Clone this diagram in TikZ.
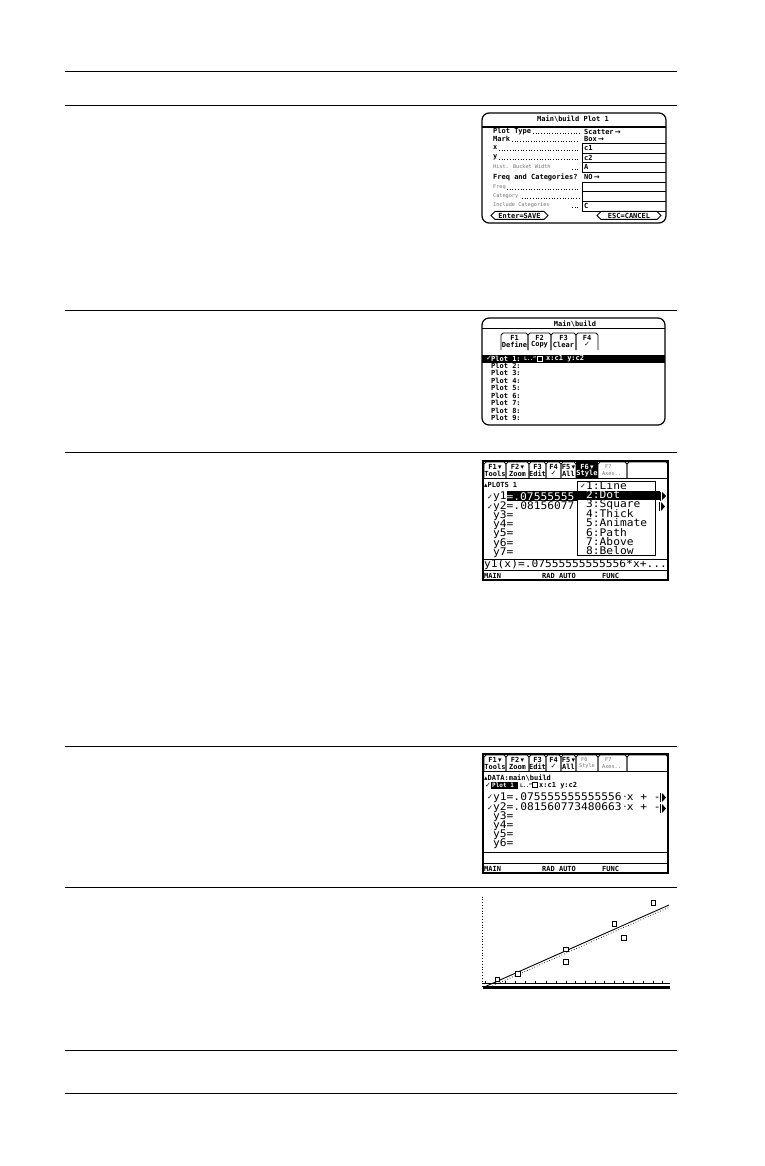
\documentclass[tikz,border=0pt]{standalone}
\usepackage{fontspec}
\setmainfont{DejaVu Sans Mono}
\newfontfamily\dejavu{DejaVu Sans}
\newfontfamily\lgfont[FakeStretch=1.07]{DejaVu Sans Mono}
\newcount\tn
\newcommand{\TT}[4][sm]{\global\advance\tn by 1 \node[#1] (t\the\tn) at (#2,#3) {#4};}
\newcommand{\TabBox}[4]{\draw[scr] (#1,#4) -- (#1,#3+2) -- (#1+2,#3) -- (#2-2,#3) -- (#2,#3+2) -- (#2,#4);}
\newcommand{\Pill}[3]{\draw[scr,line width=1pt] (#1+4,#3-4) -- (#1,#3) -- (#1+4,#3+4) -- (#2-4,#3+4) -- (#2,#3) -- (#2-4,#3-4) -- cycle;}
\tikzset{
  x=1pt,y=-1pt,
  rule/.style={line width=0.7pt,black},
  hrule/.style={line width=1.8pt,black},
  scr/.style={line width=0.8pt,black},
  frm/.style={line width=1.2pt,black,rounded corners=7pt},
  sm/.style={font=\fontsize{7}{7}\selectfont\bfseries,anchor=west,inner sep=0pt},
  smc/.style={font=\fontsize{7}{7}\selectfont\bfseries,anchor=center,inner sep=0pt},
  smw/.style={sm,text=white},
  smcw/.style={smc,text=white},
  tiny/.style={font=\fontsize{5.2}{5.2}\selectfont,anchor=west,inner sep=0pt,text=black!55},
  lg/.style={font=\lgfont\fontsize{10.5}{10.5}\selectfont,anchor=west,inner sep=0pt},
  lgw/.style={lg,text=white},
  lead/.style={line width=0.7pt,black,dotted},
  pt/.style={draw=black,line width=0.9pt,fill=white,minimum size=4.6pt,inner sep=0pt},
}
\begin{document}
\begin{tikzpicture}
\useasboundingbox (0,0) rectangle (764,1166);
\fill[white] (0,0) rectangle (764,1166);
% page rules
\draw[hrule] (65,71.5) -- (677,71.5);
\draw[hrule] (65,105.5) -- (677,105.5);
\foreach \yy in {310.5,452.5,746.5,887.5,1050.5,1093.5}
  \draw[rule] (65,\yy) -- (677,\yy);

% ---------- screen 1
\draw[frm] (482,113) rectangle (666,223);
\TT[smc]{573}{119}{Main\textbackslash build Plot 1}
\draw[line width=1.4pt] (482,127) -- (666,127);
\TT{493}{131.5}{Plot Type}
\TT{493}{138.5}{Mark}
\TT{584}{131.5}{Scatter\,{\dejavu→}}
\TT{584}{138.5}{Box\,{\dejavu→}}
\TT{493}{148}{x}
\TT{493}{157.5}{y}
\TT[tiny]{493}{167}{Hist. Bucket Width}
\TT{493}{177}{Freq and Categories?}
\TT{584}{177}{NO\,{\dejavu→}}
\TT[tiny]{493}{187}{Freq}
\TT[tiny]{493}{196}{Category}
\TT[tiny]{493}{205.5}{Include Categories}
\draw[lead] (533,133) -- (579,133);
\draw[lead] (512,141) -- (579,141);
\draw[lead] (499,150) -- (579,150);
\draw[lead] (499,159.5) -- (579,159.5);
\draw[lead] (572,169) -- (579,169);
\draw[lead] (507,189) -- (579,189);
\draw[lead] (522,198) -- (579,198);
\draw[lead] (572,207) -- (579,207);
\foreach \yy in {143,153,162,172,182,191,201,211}
  \draw[scr] (582,\yy) -- (666,\yy);
\foreach \ya/\yb in {143/172,182/211}
  \draw[scr] (582,\ya) -- (582,\yb);
\TT{584}{148}{c1}
\TT{584}{157.5}{c2}
\TT{584}{167}{A}
\TT{584}{205.5}{C}
\Pill{491}{548}{215.5}
\TT[smc]{519.5}{215.5}{Enter=SAVE}
\Pill{597}{661}{215.5}
\TT[smc]{629}{215.5}{ESC=CANCEL}

% ---------- screen 2
\draw[frm] (482,318) rectangle (665,425);
\TT[smc]{575}{324}{Main\textbackslash build}
\draw[scr] (482,328) -- (665,328);
\TabBox{501}{528}{333}{350}
\TabBox{528}{551}{333}{350}
\TabBox{551}{576}{333}{350}
\TabBox{576}{598}{333}{350}
\TT[smc]{514.5}{337.5}{F1}
\TT[smc]{514.5}{344.5}{Define}
\TT[smc]{539.5}{337.5}{F2}
\TT[smc]{539.5}{344.5}{Copy}
\TT[smc]{563.5}{337.5}{F3}
\TT[smc]{563.5}{344.5}{Clear}
\TT[smc]{587}{337.5}{F4}
\TT[smc]{587}{344.5}{{\dejavu✓}}
\fill[black] (482,355) rectangle (665,362.5);
\TT[smw]{486}{358.5}{{\dejavu✓}}
\TT[smw]{491}{358.5}{Plot 1:}
\TT[smw]{524}{358.5}{\fontsize{5}{5}\selectfont L.."}
\draw[white,line width=0.7pt] (537,356.2) rectangle (542,361);
\TT[smw]{546}{358.5}{x:c1 y:c2}
\foreach \n/\yy in {2/365.5,3/373,4/380.5,5/388,6/395.5,7/403,8/410.5,9/418}
  \node[sm] (p\n) at (491,\yy) {Plot \n:};

% ---------- screen 3
\draw[line width=1.3pt] (483,461) rectangle (668,580);
\TabBox{484}{506}{462}{478}
\TabBox{506}{529}{462}{478}
\TabBox{529}{546}{462}{478}
\TabBox{546}{561}{462}{478}
\TabBox{561}{576}{462}{478}
\fill[black] (576,462) rectangle (598,478);
\TabBox{598}{627}{462}{478}
\TabBox{627}{668}{462}{478}
\draw[scr] (483,478) -- (668,478);
\TT[smc]{495}{467}{F1\,{\dejavu▾}}
\TT[smc]{495}{473.5}{Tools}
\TT[smc]{517.5}{467}{F2\,{\dejavu▾}}
\TT[smc]{517.5}{473.5}{Zoom}
\TT[smc]{537.5}{467}{F3}
\TT[smc]{537.5}{473.5}{Edit}
\TT[smc]{553.5}{467}{F4}
\TT[smc]{553.5}{473.5}{{\dejavu✓}}
\TT[smc]{568.5}{467}{F5\,{\dejavu▾}}
\TT[smc]{568.5}{473.5}{All}
\TT[smcw]{587}{467}{F6\,{\dejavu▾}}
\TT[smcw]{587}{473.5}{Style}
\TT[tiny]{605}{467}{F7}
\TT[tiny]{602}{473.5}{Axes..}
\TT{484}{484.5}{{\dejavu▴}PLOTS 1}
\fill[black] (506.5,491) rectangle (577,501);
\TT[lgw]{506.5}{496.5}{=.07555555}
\TT[lg]{493}{496.5}{y1}
\TT[sm]{487}{497}{{\dejavu✓}}
\TT[sm]{487}{507}{{\dejavu✓}}
\TT[lg]{493}{507}{y2=.08156077}
\TT[lg]{493}{516}{y3=}
\TT[lg]{493}{525}{y4=}
\TT[lg]{493}{534}{y5=}
\TT[lg]{493}{543.5}{y6=}
\TT[lg]{493}{552.5}{y7=}
\draw[scr,fill=white] (577,481) rectangle (655,555);
\fill[black] (577,491) rectangle (655,500);
\fill[black] (655,491) rectangle (660,500);
\TT[sm]{580}{486}{{\dejavu✓}}
\TT[lg]{586}{486}{1:Line}
\TT[lgw]{586}{495}{2:Dot}
\TT[lg]{586}{505}{3:Square}
\TT[lg]{586}{514}{4:Thick}
\TT[lg]{586}{523}{5:Animate}
\TT[lg]{586}{532.5}{6:Path}
\TT[lg]{586}{542}{7:Above}
\TT[lg]{586}{551}{8:Below}
\fill[white] (660,491) rectangle (667,501);
\fill[black] (662,492) -- (666,496) -- (662,500) -- cycle;
\draw[scr] (660,491.5) -- (660,500.5);
\fill[black] (661,502) -- (665,506.5) -- (661,511) -- cycle;
\draw[scr] (659.5,502) -- (659.5,511);
\draw[scr] (483,559) -- (668,559);
\TT[lg]{484}{565}{y1(x)=.07555555555556*x+...}
\draw[scr] (483,570.5) -- (668,570.5);
\TT{484}{575.5}{MAIN}
\TT{542}{575.5}{RAD AUTO}
\TT{602}{575.5}{FUNC}

% ---------- screen 4
\draw[line width=1.3pt] (483,754) rectangle (668,873);
\TabBox{484}{506}{755}{771}
\TabBox{506}{529}{755}{771}
\TabBox{529}{546}{755}{771}
\TabBox{546}{561}{755}{771}
\TabBox{561}{576}{755}{771}
\TabBox{576}{598}{755}{771}
\TabBox{598}{627}{755}{771}
\TabBox{627}{668}{755}{771}
\draw[scr] (483,771) -- (668,771);
\TT[smc]{495}{760}{F1\,{\dejavu▾}}
\TT[smc]{495}{766.5}{Tools}
\TT[smc]{517.5}{760}{F2\,{\dejavu▾}}
\TT[smc]{517.5}{766.5}{Zoom}
\TT[smc]{537.5}{760}{F3}
\TT[smc]{537.5}{766.5}{Edit}
\TT[smc]{553.5}{760}{F4}
\TT[smc]{553.5}{766.5}{{\dejavu✓}}
\TT[smc]{568.5}{760}{F5\,{\dejavu▾}}
\TT[smc]{568.5}{766.5}{All}
\TT[tiny]{581}{760}{F6}
\TT[tiny]{579}{766.5}{Style}
\TT[tiny]{605}{760}{F7}
\TT[tiny]{602}{766.5}{Axes..}
\TT{484}{778}{{\dejavu▴}DATA:main\textbackslash build}
\TT[sm]{485}{785.5}{{\dejavu✓}}
\fill[black] (491,782) rectangle (518,789);
\TT[smw]{492}{785.5}{\fontsize{6}{6}\selectfont Plot 1}
\TT[sm]{520}{785.5}{\fontsize{5}{5}\selectfont L.."}
\draw[scr] (532,782.5) rectangle (537,787.5);
\TT[sm]{539}{785.5}{x:c1 y:c2}
\TT[sm]{487}{797}{{\dejavu✓}}
\TT[sm]{487}{808}{{\dejavu✓}}
\TT[lg]{493}{797.5}{y1=.075555555555556\,{\dejavu·}x + -}
\TT[lg]{493}{808}{y2=.081560773480663\,{\dejavu·}x + -}
\fill[black] (662,793) -- (666,797.5) -- (662,802) -- cycle;
\draw[scr] (660,793) -- (660,802);
\fill[black] (662,804) -- (666,808.5) -- (662,813) -- cycle;
\draw[scr] (660,804) -- (660,813);
\TT[lg]{493}{817}{y3=}
\TT[lg]{493}{826}{y4=}
\TT[lg]{493}{835}{y5=}
\TT[lg]{493}{844}{y6=}
\draw[scr] (483,852) -- (668,852);
\draw[scr] (483,863) -- (668,863);
\TT{484}{868.5}{MAIN}
\TT{542}{868.5}{RAD AUTO}
\TT{602}{868.5}{FUNC}

% ---------- screen 5
\begin{scope}[shift={(470,890)},x=0.3333pt,y=-0.3333pt]
\draw[line width=0.8pt,dotted] (38,20) -- (38,290);
\draw[line width=0.7pt] (38,280) -- (600,280);
\draw[line width=2.4pt] (38,293) -- (600,293);
\foreach \xx in {45,75,105,135,165,195,228,258,288,316,345,375,403,433,461,490,520,550,578}
  \draw[line width=0.8pt] (\xx,272) -- (\xx,280);
\draw[line width=0.9pt] (45,290) -- (597,45);
\draw[line width=0.7pt,dotted] (60,291) -- (597,52);
\foreach \xa/\ya in {82/268,143/252,288/178,288/215,433/101,461/143,550/38}
  \node[pt] (d\xa-\ya) at (\xa,\ya) {};
\end{scope}
\end{tikzpicture}
\end{document}
